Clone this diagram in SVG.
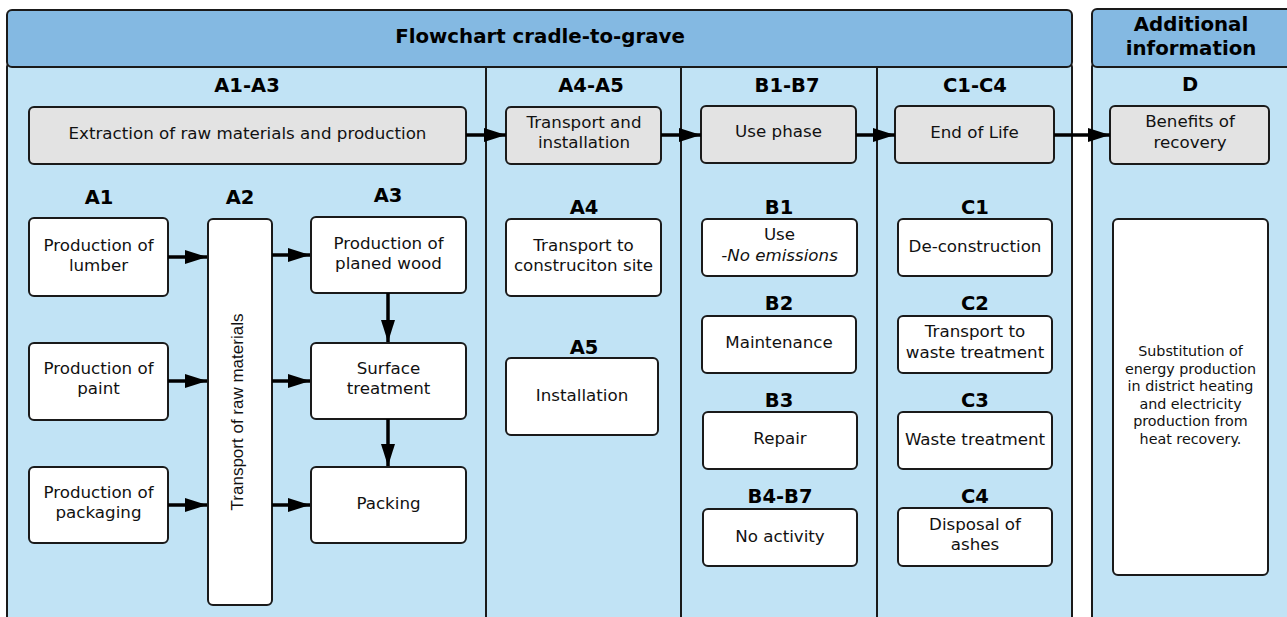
<svg xmlns="http://www.w3.org/2000/svg" width="1287" height="617" viewBox="0 0 1287 617">
<defs>
<style>
.hdr{fill:#84b9e2;stroke:#1a1a1a;stroke-width:2}
.pnl{fill:#c1e3f5;stroke:#1a1a1a;stroke-width:2}
.div{stroke:#1a1a1a;stroke-width:2}
.grey{fill:#e3e3e3;stroke:#1a1a1a;stroke-width:2}
.box{fill:#ffffff;stroke:#1a1a1a;stroke-width:2}
.t{font-family:"DejaVu Sans","Liberation Sans",sans-serif;font-size:16.7px;fill:#111;text-anchor:middle}
.r{font-family:"Liberation Sans",Arial,sans-serif;font-size:17px;fill:#111;text-anchor:middle}
.s{font-family:"DejaVu Sans","Liberation Sans",sans-serif;font-size:14.3px;fill:#111;text-anchor:middle}
.b{font-family:"DejaVu Sans","Liberation Sans",sans-serif;font-size:19.5px;font-weight:bold;fill:#000;text-anchor:middle}
.h{font-family:"DejaVu Sans","Liberation Sans",sans-serif;font-size:19.8px;font-weight:bold;fill:#000;text-anchor:middle}
.i{font-style:italic}
.c{fill:none;stroke:#000;stroke-width:3.5}
</style>
<marker id="ah" viewBox="0 0 22 14" refX="22" refY="7" markerWidth="22" markerHeight="14" markerUnits="userSpaceOnUse" orient="auto">
<path d="M0,0 L22,7 L0,14 Z" fill="#000"/>
</marker>
</defs>

<g id="frame">
<rect class="pnl" x="7" y="62" width="1065" height="570" rx="5"/>
<rect class="hdr" x="7" y="10" width="1065" height="57" rx="5"/>
<line class="div" x1="486" y1="67" x2="486" y2="620"/>
<line class="div" x1="681" y1="67" x2="681" y2="620"/>
<line class="div" x1="877" y1="67" x2="877" y2="620"/>
<text class="h" x="540" y="43">Flowchart cradle-to-grave</text>
<rect class="pnl" x="1092" y="62" width="210" height="570" rx="5"/>
<rect class="hdr" x="1092" y="9" width="210" height="58" rx="5"/>
<text class="h" x="1191" y="31">Additional</text>
<text class="h" x="1191" y="55">information</text>
</g>

<g id="labels">
<text class="b" x="247" y="92">A1-A3</text>
<text class="b" x="591" y="92">A4-A5</text>
<text class="b" x="787" y="92">B1-B7</text>
<text class="b" x="975" y="92">C1-C4</text>
<text class="b" x="1190" y="91">D</text>
<text class="b" x="99" y="204">A1</text>
<text class="b" x="240" y="204">A2</text>
<text class="b" x="388" y="202">A3</text>
<text class="b" x="584" y="214">A4</text>
<text class="b" x="584" y="354">A5</text>
<text class="b" x="779" y="214">B1</text>
<text class="b" x="779" y="310">B2</text>
<text class="b" x="779" y="407">B3</text>
<text class="b" x="780" y="503">B4-B7</text>
<text class="b" x="975" y="214">C1</text>
<text class="b" x="975" y="310">C2</text>
<text class="b" x="975" y="407">C3</text>
<text class="b" x="975" y="503">C4</text>
</g>

<g id="n-extraction">
<rect class="grey" x="29" y="107" width="437" height="57" rx="5"/>
<text class="t" x="247.5" y="139">Extraction of raw materials and production</text>
</g>
<g id="n-transport-installation">
<rect class="grey" x="506" y="107" width="155" height="57" rx="5"/>
<text class="t" x="584" y="128">Transport and</text>
<text class="t" x="584" y="148">installation</text>
</g>
<g id="n-use-phase">
<rect class="grey" x="701" y="106" width="155" height="57" rx="5"/>
<text class="t" x="778.5" y="137">Use phase</text>
</g>
<g id="n-end-of-life">
<rect class="grey" x="895" y="106" width="159" height="57" rx="5"/>
<text class="t" x="974.5" y="138">End of Life</text>
</g>
<g id="n-benefits">
<rect class="grey" x="1110" y="106" width="159" height="58" rx="5"/>
<text class="t" x="1190" y="127">Benefits of</text>
<text class="t" x="1190" y="148">recovery</text>
</g>

<g id="n-lumber">
<rect class="box" x="29" y="218" width="139" height="78" rx="5"/>
<text class="t" x="98.5" y="251">Production of</text>
<text class="t" x="98.5" y="271">lumber</text>
</g>
<g id="n-paint">
<rect class="box" x="29" y="343" width="139" height="77" rx="5"/>
<text class="t" x="98.5" y="374">Production of</text>
<text class="t" x="98.5" y="394">paint</text>
</g>
<g id="n-packaging">
<rect class="box" x="29" y="467" width="139" height="76" rx="5"/>
<text class="t" x="98.5" y="498">Production of</text>
<text class="t" x="98.5" y="518">packaging</text>
</g>
<g id="n-transport-raw">
<rect class="box" x="208" y="219" width="64" height="386" rx="5"/>
<text class="r" transform="translate(243,412) rotate(-90)">Transport of raw materials</text>
</g>
<g id="n-planed-wood">
<rect class="box" x="311" y="217" width="155" height="76" rx="5"/>
<text class="t" x="388.5" y="249">Production of</text>
<text class="t" x="388.5" y="269">planed wood</text>
</g>
<g id="n-surface">
<rect class="box" x="311" y="343" width="155" height="76" rx="5"/>
<text class="t" x="388.5" y="374">Surface</text>
<text class="t" x="388.5" y="394">treatment</text>
</g>
<g id="n-packing">
<rect class="box" x="311" y="467" width="155" height="76" rx="5"/>
<text class="t" x="388.5" y="509">Packing</text>
</g>

<g id="n-a4">
<rect class="box" x="506" y="219" width="155" height="77" rx="5"/>
<text class="t" x="583.5" y="251">Transport to</text>
<text class="t" x="583.5" y="271">construciton site</text>
</g>
<g id="n-a5">
<rect class="box" x="506" y="358" width="152" height="77" rx="5"/>
<text class="t" x="582" y="401">Installation</text>
</g>

<g id="n-b1">
<rect class="box" x="702" y="219" width="155" height="57" rx="5"/>
<text class="t" x="779.5" y="240">Use</text>
<text class="t i" x="779.5" y="261">-No emissions</text>
</g>
<g id="n-b2">
<rect class="box" x="702" y="316" width="154" height="57" rx="5"/>
<text class="t" x="779" y="348">Maintenance</text>
</g>
<g id="n-b3">
<rect class="box" x="703" y="412" width="154" height="57" rx="5"/>
<text class="t" x="780" y="444">Repair</text>
</g>
<g id="n-b4b7">
<rect class="box" x="703" y="509" width="154" height="57" rx="5"/>
<text class="t" x="780" y="542">No activity</text>
</g>

<g id="n-c1">
<rect class="box" x="898" y="219" width="154" height="57" rx="5"/>
<text class="t" x="975" y="252">De-construction</text>
</g>
<g id="n-c2">
<rect class="box" x="898" y="316" width="154" height="57" rx="5"/>
<text class="t" x="975" y="337">Transport to</text>
<text class="t" x="975" y="358">waste treatment</text>
</g>
<g id="n-c3">
<rect class="box" x="898" y="412" width="154" height="57" rx="5"/>
<text class="t" x="975" y="445">Waste treatment</text>
</g>
<g id="n-c4">
<rect class="box" x="898" y="508" width="154" height="58" rx="5"/>
<text class="t" x="975" y="530">Disposal of</text>
<text class="t" x="975" y="550">ashes</text>
</g>

<g id="n-d">
<rect class="box" x="1113" y="219" width="155" height="356" rx="5"/>
<text class="s" x="1190.5" y="356">Substitution of</text>
<text class="s" x="1190.5" y="373.6">energy production</text>
<text class="s" x="1190.5" y="391.2">in district heating</text>
<text class="s" x="1190.5" y="408.8">and electricity</text>
<text class="s" x="1190.5" y="426.4">production from</text>
<text class="s" x="1190.5" y="444">heat recovery.</text>
</g>

<g id="connectors">
<line class="c" x1="466" y1="135" x2="506" y2="135" marker-end="url(#ah)"/>
<line class="c" x1="661" y1="135" x2="701" y2="135" marker-end="url(#ah)"/>
<line class="c" x1="856" y1="135" x2="895" y2="135" marker-end="url(#ah)"/>
<line class="c" x1="1054" y1="135" x2="1110" y2="135" marker-end="url(#ah)"/>
<line class="c" x1="168" y1="257" x2="207" y2="257" marker-end="url(#ah)"/>
<line class="c" x1="168" y1="381" x2="207" y2="381" marker-end="url(#ah)"/>
<line class="c" x1="168" y1="505" x2="207" y2="505" marker-end="url(#ah)"/>
<line class="c" x1="272" y1="255" x2="310" y2="255" marker-end="url(#ah)"/>
<line class="c" x1="272" y1="381" x2="310" y2="381" marker-end="url(#ah)"/>
<line class="c" x1="272" y1="505" x2="310" y2="505" marker-end="url(#ah)"/>
<line class="c" x1="388" y1="293" x2="388" y2="342" marker-end="url(#ah)"/>
<line class="c" x1="388" y1="419" x2="388" y2="466" marker-end="url(#ah)"/>
</g>
</svg>
